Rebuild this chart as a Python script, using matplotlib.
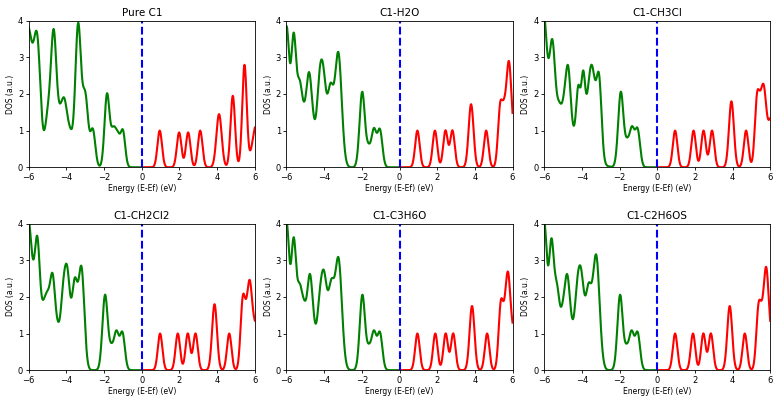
import matplotlib
matplotlib.use("Agg")
import matplotlib.pyplot as plt
import numpy as np

# peak centres (eV), heights (a.u.) and widths (eV)
pure_c1_centers = [-6.05, -5.55, -5.0, -4.68, -4.35, -4.1, -3.8, -3.38, -3.0, -2.6, -1.85, -1.5, -1.25, -1.0,
                   0.95, 1.98, 2.46, 3.1, 4.1, 4.83, 5.45, 6.1]
pure_c1_heights = [3.75, 3.2, 1.25, 3.55, 1.05, 1.5, 0.8, 3.85, 1.9, 1.0, 1.95, 1.0, 0.6, 0.95,
                   1.0, 0.95, 0.95, 1.0, 1.45, 1.95, 2.78, 1.2]
pure_c1_widths = [0.24, 0.18, 0.15, 0.15, 0.15, 0.15, 0.15, 0.15, 0.15, 0.13, 0.13, 0.15, 0.12, 0.12,
                  0.12, 0.12, 0.12, 0.12, 0.14, 0.12, 0.12, 0.22]

h2o_centers = [-6.0, -5.62, -5.3, -5.05, -4.8, -4.55, -4.3, -4.08, -3.66, -3.25, -1.98, -1.65, -1.36, -1.04,
               0.95, 1.88, 2.44, 2.81, 3.8, 4.6, 5.35, 5.55, 5.8, 6.1]
h2o_heights = [3.8, 3.3, 2.15, 0.65, 2.45, 0.55, 1.0, 2.6, 1.9, 3.1, 2.05, 0.45, 1.0, 1.0,
               1.0, 1.0, 1.0, 1.0, 1.72, 1.0, 1.65, 0.9, 2.78, 0.6]
h2o_widths = [0.15, 0.13, 0.15, 0.12, 0.15, 0.12, 0.13, 0.18, 0.15, 0.18, 0.14, 0.12, 0.13, 0.13,
              0.12, 0.12, 0.12, 0.12, 0.13, 0.12, 0.12, 0.1, 0.14, 0.15]

ch3cl_centers = [-6.05, -5.56, -5.22, -4.95, -4.72, -4.19, -3.93, -3.47, -3.08, -4.1, -1.93, -1.6, -1.34, -1.04,
                 0.95, 1.93, 2.46, 2.91, 3.94, 4.72, 5.3, 5.47, 5.65, 6.05]
ch3cl_heights = [4.3, 3.2, 1.1, 1.2, 1.8, 1.1, 1.4, 2.2, 2.0, 1.1, 2.05, 0.55, 1.0, 1.0,
                 1.0, 1.0, 1.0, 1.0, 1.8, 1.0, 1.8, 0.4, 2.12, 1.27]
ch3cl_widths = [0.2, 0.16, 0.13, 0.15, 0.13, 0.1, 0.1, 0.2, 0.13, 0.55, 0.14, 0.12, 0.13, 0.13,
                0.12, 0.12, 0.12, 0.12, 0.13, 0.12, 0.12, 0.1, 0.15, 0.15]

ch2cl2_centers = [-6.05, -5.54, -5.2, -5.0, -4.74, -4.45, -4.2, -3.96, -3.56, -3.2, -1.95, -1.62, -1.35, -1.03,
                  0.97, 1.91, 2.44, 2.85, 3.86, 4.64, 5.36, 5.52, 5.72, 6.05]
ch2cl2_heights = [4.2, 3.0, 1.5, 1.0, 2.5, 0.7, 1.5, 2.5, 2.3, 2.7, 2.05, 0.5, 1.0, 1.0,
                  1.0, 1.0, 1.0, 1.0, 1.8, 1.0, 1.85, 0.35, 2.3, 1.1]
ch2cl2_widths = [0.25, 0.14, 0.15, 0.12, 0.15, 0.12, 0.13, 0.15, 0.15, 0.15, 0.14, 0.12, 0.13, 0.13,
                 0.12, 0.12, 0.12, 0.12, 0.13, 0.12, 0.12, 0.1, 0.14, 0.15]

c3h6o_centers = [-6.0, -5.62, -5.3, -5.05, -4.76, -4.52, -4.28, -4.02, -3.62, -3.24, -1.97, -1.63, -1.36, -1.04,
                 0.95, 1.9, 2.45, 2.85, 3.85, 4.65, 5.38, 5.55, 5.75, 6.08]
c3h6o_heights = [4.0, 3.25, 2.1, 1.0, 2.5, 0.5, 0.95, 2.55, 1.95, 3.0, 2.05, 0.5, 1.0, 1.0,
                 1.0, 1.0, 1.0, 1.0, 1.75, 1.0, 1.75, 0.35, 2.55, 0.9]
c3h6o_widths = [0.15, 0.13, 0.15, 0.12, 0.15, 0.12, 0.13, 0.18, 0.15, 0.18, 0.14, 0.12, 0.13, 0.13,
                0.12, 0.12, 0.12, 0.12, 0.13, 0.12, 0.12, 0.1, 0.14, 0.15]

c2h6os_centers = [-6.0, -5.62, -5.32, -5.03, -4.78, -4.53, -4.3, -4.06, -3.64, -3.24, -1.97, -1.63, -1.36, -1.04,
                  0.95, 1.9, 2.45, 2.85, 3.85, 4.65, 5.38, 5.55, 5.78, 6.1]
c2h6os_heights = [4.0, 3.15, 2.1, 0.9, 2.45, 0.55, 1.0, 2.6, 1.95, 3.1, 2.05, 0.5, 1.0, 1.0,
                  1.0, 1.0, 1.0, 1.0, 1.75, 1.0, 1.65, 0.6, 2.7, 0.7]
c2h6os_widths = [0.15, 0.13, 0.15, 0.12, 0.15, 0.12, 0.13, 0.18, 0.15, 0.18, 0.14, 0.12, 0.13, 0.13,
                 0.12, 0.12, 0.12, 0.12, 0.13, 0.12, 0.12, 0.1, 0.14, 0.15]

titles = ["Pure C1", "C1-H2O", "C1-CH3Cl", "C1-CH2Cl2", "C1-C3H6O", "C1-C2H6OS"]
panels = [
    (pure_c1_centers, pure_c1_heights, pure_c1_widths),
    (h2o_centers, h2o_heights, h2o_widths),
    (ch3cl_centers, ch3cl_heights, ch3cl_widths),
    (ch2cl2_centers, ch2cl2_heights, ch2cl2_widths),
    (c3h6o_centers, c3h6o_heights, c3h6o_widths),
    (c2h6os_centers, c2h6os_heights, c2h6os_widths),
]


def broadened_dos(energy, centers, heights, widths):
    """Gaussian-broadened DOS from the listed peaks"""
    dos = np.zeros_like(energy)
    for c, h, w in zip(centers, heights, widths):
        dos += h * np.exp(-(energy - c) ** 2 / (2 * w ** 2))
    return dos


energy = np.linspace(-6, 6, 1201)
occupied = energy <= 0
empty = energy >= 0

fig, axes = plt.subplots(2, 3, figsize=(7.78, 4.05), dpi=100)
fig.subplots_adjust(left=0.037, right=0.99, top=0.949, bottom=0.086, wspace=0.14, hspace=0.384)

for ax, title, (centers, heights, widths) in zip(axes.flat, titles, panels):
    dos = broadened_dos(energy, centers, heights, widths)
    ax.plot(energy[occupied], dos[occupied], color='green', lw=1.5)
    ax.plot(energy[empty], dos[empty], color='red', lw=1.5)
    ax.axvline(0, color='blue', ls='--', lw=1.5)
    ax.set_xlim(-6, 6)
    ax.set_ylim(0, 4)
    ax.set_xticks([-6, -4, -2, 0, 2, 4, 6])
    ax.set_yticks([0, 1, 2, 3, 4])
    ax.tick_params(labelsize=6, length=2.5, width=0.6, pad=1.5)
    for s in ax.spines.values():
        s.set_linewidth(0.6)
    ax.set_title(title, fontsize=7.5, pad=3)
    ax.set_xlabel("Energy (E-Ef) (eV)", fontsize=5.5, labelpad=1.5)
    ax.set_ylabel("DOS (a.u.)", fontsize=5.5, labelpad=2)

fig.savefig("out.png", dpi=100)
